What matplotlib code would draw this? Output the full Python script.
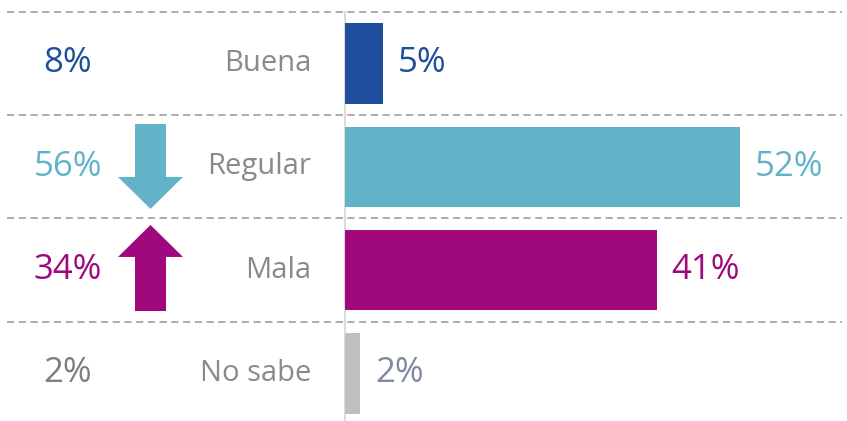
import matplotlib
matplotlib.use('Agg')
import matplotlib.pyplot as plt
from matplotlib.patches import FancyArrow

plt.rcParams['font.family'] = ['Open Sans', 'DejaVu Sans']

categories = ['Buena', 'Regular', 'Mala', 'No sabe']
current = [5, 52, 41, 2]
previous = [8, 56, 34, 2]
bar_colors = ['#1F4E9C', '#62B3C8', '#A0097E', '#BFBFBF']
cur_text_colors = ['#1F4E9C', '#62B3C8', '#A0097E', '#7F8BA0']
prev_text_colors = ['#1F4E9C', '#62B3C8', '#A0097E', '#7F7F7F']

W, H = 847, 421
px = 7.6          # pixels per percent
x0 = 345          # pixel position of the zero line
row = 103.3       # pixels per row
top = 63.5        # pixel centre of first row

fig = plt.figure(figsize=(W / 100, H / 100), dpi=100)
ax = fig.add_axes([0, 0, 1, 1])
ax.set_xlim(-x0 / px, (W - x0) / px)
ax.set_ylim((H - top) / row, -top / row)
ax.axis('off')

ys = list(range(len(categories)))
ax.barh(ys, current, height=0.78, color=bar_colors, zorder=3)

# dashed separators
for i in range(len(categories)):
    ax.axhline(i - 0.5, xmin=7 / W, xmax=842 / W, color='#A6A6A6', lw=1.3,
               ls=(0, (4, 2.5)), zorder=1)
# zero line
ax.plot([0, 0], [-0.5, (H - top) / row], color='#D9D9D9', lw=1.3, zorder=2)

for i, cat in enumerate(categories):
    v = current[i]
    ax.text(v + 15 / px, i, f'{v}%', ha='left', va='center', fontsize=25,
            color=cur_text_colors[i])
    ax.text(-34 / px, i, cat, ha='right', va='center', fontsize=21,
            color='#8A8A8A')
    ax.text((68 - x0) / px, i, f'{previous[i]}%', ha='center', va='center',
            fontsize=25, color=prev_text_colors[i])

# change arrows
ax_c = (150.5 - x0) / px
down = FancyArrow(ax_c, 0.586, 0, 1.408 - 0.586, width=31 / px, head_width=65 / px,
                  head_length=32 / row, length_includes_head=True,
                  color='#62B3C8', lw=0)
up = FancyArrow(ax_c, 2.396, 0, 1.563 - 2.396, width=31 / px, head_width=65 / px,
                head_length=32 / row, length_includes_head=True,
                color='#A0097E', lw=0)
ax.add_patch(down)
ax.add_patch(up)

fig.savefig('out.png', dpi=100)
